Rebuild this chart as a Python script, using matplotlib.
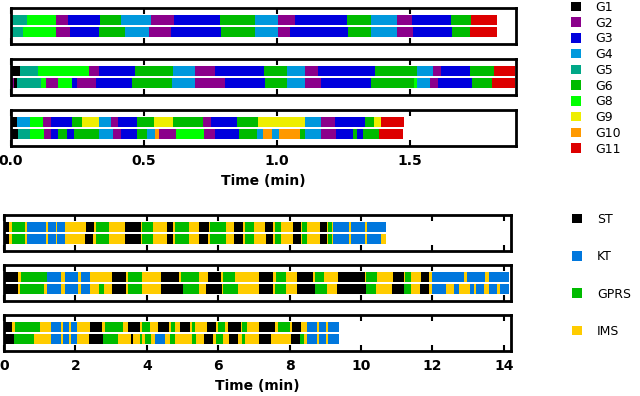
import matplotlib
matplotlib.use("Agg")
import matplotlib.pyplot as plt
from matplotlib.patches import Patch

# ---------------- data: top group (application groups, minutes) ----------------
group_names = ["G1", "G2", "G3", "G4", "G5", "G6", "G8", "G9", "G10", "G11"]
group_colors = ["#000000", "#8b008b", "#0000dd", "#0099dd", "#00a888",
                "#00bb00", "#00ff00", "#eeee00", "#ff9900", "#dd0000"]

t1a_edges = [0.0, 0.062, 0.168, 0.216, 0.336, 0.415, 0.525, 0.615, 0.785, 0.917, 1.005,
             1.068, 1.265, 1.355, 1.452, 1.51, 1.655, 1.73, 1.83]
t1a_labels = ["G5", "G8", "G2", "G3", "G6", "G4", "G2", "G3", "G6", "G4", "G2", "G3",
              "G6", "G4", "G2", "G3", "G6", "G11"]
t1b_edges = [0.0, 0.045, 0.168, 0.223, 0.332, 0.428, 0.521, 0.603, 0.791, 0.917, 1.005,
             1.049, 1.267, 1.355, 1.452, 1.514, 1.659, 1.726, 1.829]
t1b_labels = ["G5", "G8", "G2", "G3", "G6", "G4", "G2", "G3", "G6", "G4", "G2", "G3",
              "G6", "G4", "G2", "G3", "G6", "G11"]

t2a_edges = [0.0, 0.033, 0.103, 0.292, 0.33, 0.465, 0.61, 0.694, 0.766, 0.951, 1.039,
             1.106, 1.154, 1.37, 1.529, 1.587, 1.619, 1.728, 1.819, 1.898]
t2a_labels = ["G1", "G5", "G8", "G2", "G3", "G6", "G4", "G2", "G3", "G6", "G4", "G2",
              "G3", "G6", "G4", "G2", "G3", "G6", "G11"]
t2b_edges = [0.0, 0.01, 0.021, 0.112, 0.131, 0.177, 0.231, 0.248, 0.32, 0.454, 0.604,
             0.692, 0.804, 0.955, 1.039, 1.106, 1.166, 1.355, 1.517, 1.527, 1.577, 1.606,
             1.735, 1.808, 1.898]
t2b_labels = ["G2", "G1", "G5", "G8", "G2", "G8", "G3", "G2", "G3", "G6", "G4", "G2",
              "G3", "G6", "G4", "G2", "G3", "G6", "G8", "G4", "G2", "G3", "G6", "G11"]

t3a_edges = [0.0, 0.024, 0.072, 0.122, 0.15, 0.231, 0.269, 0.332, 0.376, 0.404, 0.473,
             0.537, 0.611, 0.721, 0.751, 0.851, 0.93, 1.106, 1.166, 1.219, 1.33, 1.364,
             1.391, 1.477]
t3a_labels = ["G1", "G4", "G8", "G2", "G3", "G6", "G9", "G4", "G2", "G3", "G6", "G9",
              "G6", "G2", "G3", "G6", "G9", "G4", "G2", "G3", "G6", "G9", "G11"]
t3b_edges = [0.0, 0.026, 0.072, 0.125, 0.15, 0.177, 0.21, 0.238, 0.332, 0.382, 0.414,
             0.474, 0.511, 0.542, 0.558, 0.619, 0.725, 0.766, 0.858, 0.927, 0.948, 0.982,
             1.008, 1.089, 1.106, 1.166, 1.223, 1.288, 1.3, 1.323, 1.385, 1.474]
t3b_labels = ["G1", "G5", "G8", "G2", "G3", "G6", "G3", "G6", "G4", "G2", "G3", "G6",
              "G4", "G10", "G2", "G8", "G2", "G3", "G6", "G4", "G10", "G4", "G10", "G6",
              "G4", "G2", "G3", "G6", "G3", "G6", "G11"]

top_xticks = [0.0, 0.5, 1.0, 1.5]

# ---------------- data: bottom group (network states, minutes) ----------------
state_names = ["ST", "KT", "GPRS", "IMS"]
state_colors = ["#000000", "#0077dd", "#00bb00", "#ffcc00"]

b1a_edges = [0, 0.14, 0.216, 0.59, 0.65, 1.17, 1.23, 1.45, 1.48, 1.71, 2.29, 2.52, 2.59,
             2.94, 3.39, 3.83, 3.87, 4.17, 4.56, 4.73, 4.79, 5.18, 5.46, 5.74, 5.77, 6.21,
             6.44, 6.70, 6.75, 7.0, 7.31, 7.54, 7.58, 7.75, 8.1, 8.31, 8.36, 8.50, 8.85,
             9.06, 9.08, 9.18, 9.22, 9.66, 9.71, 10.11, 10.18, 10.69]
b1a_labels = ["ST", "IMS", "GPRS", "IMS", "KT", "IMS", "KT", "IMS", "KT", "IMS",
              "ST", "IMS", "GPRS", "IMS", "ST", "IMS", "GPRS", "IMS", "ST", "IMS",
              "GPRS", "IMS", "ST", "IMS", "GPRS", "IMS", "ST", "IMS", "GPRS", "IMS",
              "ST", "IMS", "GPRS", "IMS", "ST", "IMS", "GPRS", "IMS", "ST", "IMS",
              "GPRS", "IMS", "KT", "IMS", "KT", "IMS", "KT"]
b1b_edges = [0, 0.14, 0.216, 0.59, 0.65, 1.17, 1.23, 1.45, 1.48, 1.71, 2.27, 2.50, 2.59,
             2.94, 3.39, 3.83, 3.87, 4.17, 4.56, 4.73, 4.79, 5.18, 5.46, 5.72, 5.77, 6.21,
             6.44, 6.70, 6.75, 7.0, 7.33, 7.54, 7.58, 7.75, 8.1, 8.31, 8.36, 8.50, 8.85,
             9.06, 9.08, 9.18, 9.22, 9.66, 9.71, 10.11, 10.18, 10.55, 10.69]
b1b_labels = b1a_labels + ["IMS"]

b2a_edges = [0, 0.40, 0.47, 1.20, 1.61, 1.70, 2.07, 2.15, 2.41, 3.03, 3.41, 3.48, 3.87,
             4.39, 4.90, 4.95, 5.45, 5.71, 6.07, 6.13, 6.48, 7.14, 7.54, 7.61, 7.89, 8.2,
             8.66, 8.70, 8.96, 9.36, 10.11, 10.15, 10.46, 10.9, 11.19, 11.22, 11.39, 11.67,
             11.90, 12.0, 12.89, 12.98, 13.47, 13.57, 14.15]
b2a_labels = ["ST", "IMS", "GPRS", "KT", "IMS", "KT", "IMS", "KT", "IMS", "ST",
              "IMS", "GPRS", "IMS", "ST", "IMS", "GPRS", "IMS", "ST", "IMS", "GPRS",
              "IMS", "ST", "IMS", "GPRS", "IMS", "ST", "IMS", "GPRS", "IMS", "ST",
              "IMS", "GPRS", "IMS", "ST", "IMS", "GPRS", "IMS", "ST", "IMS", "KT",
              "IMS", "KT", "IMS", "KT"]
b2b_edges = [0, 0.39, 0.45, 1.12, 1.20, 1.61, 1.70, 2.07, 2.15, 2.41, 2.66, 2.81, 3.03,
             3.41, 3.48, 3.86, 4.39, 5.01, 5.45, 5.67, 6.10, 6.13, 6.56, 7.14, 7.54, 7.59,
             7.89, 8.2, 8.71, 9.04, 9.34, 10.13, 10.41, 10.88, 11.19, 11.39, 11.65, 11.90,
             12.0, 12.37, 12.61, 12.73, 13.06, 13.17, 13.21, 13.45, 13.59, 13.80, 13.89, 14.15]
b2b_labels = ["ST", "IMS", "GPRS", "IMS", "KT", "IMS", "KT", "IMS", "KT", "IMS",
              "GPRS", "IMS", "ST", "IMS", "GPRS", "IMS", "ST", "GPRS", "IMS", "ST",
              "IMS", "GPRS", "IMS", "ST", "IMS", "GPRS", "IMS", "ST", "GPRS", "IMS",
              "ST", "GPRS", "IMS", "ST", "GPRS", "IMS", "ST", "IMS", "KT", "IMS",
              "KT", "IMS", "KT", "IMS", "KT", "IMS", "KT", "IMS", "KT"]

b3a_edges = [0, 0.23, 0.30, 1.01, 1.33, 1.61, 1.66, 1.83, 1.89, 2.04, 2.40, 2.74, 2.84,
             3.32, 3.46, 3.82, 3.87, 4.10, 4.31, 4.63, 4.68, 4.80, 4.92, 5.22, 5.26, 5.36,
             5.69, 5.95, 5.98, 6.20, 6.27, 6.63, 6.67, 6.80, 7.14, 7.58, 7.68, 8.01, 8.07,
             8.31, 8.48, 8.77, 8.82, 9.02, 9.07, 9.38]
b3a_labels = ["ST", "IMS", "GPRS", "IMS", "KT", "IMS", "KT", "IMS", "KT", "IMS",
              "ST", "IMS", "GPRS", "IMS", "ST", "IMS", "GPRS", "IMS", "ST", "IMS",
              "GPRS", "IMS", "ST", "IMS", "GPRS", "IMS", "ST", "IMS", "GPRS", "IMS",
              "ST", "IMS", "GPRS", "IMS", "ST", "IMS", "GPRS", "IMS", "ST", "IMS",
              "KT", "IMS", "KT", "IMS", "KT"]
b3b_edges = [0, 0.28, 0.84, 1.33, 1.61, 1.66, 1.83, 1.89, 2.04, 2.38, 2.78, 3.18, 3.55,
             3.60, 3.80, 3.87, 3.94, 4.11, 4.22, 4.51, 4.66, 4.80, 5.27, 5.38, 5.59, 5.85,
             5.95, 6.13, 6.30, 6.56, 6.67, 6.75, 7.14, 7.49, 8.03, 8.29, 8.41, 8.48, 8.77,
             8.82, 9.02, 9.07, 9.38]
b3b_labels = ["ST", "GPRS", "IMS", "KT", "IMS", "KT", "IMS", "KT", "IMS", "ST",
              "GPRS", "IMS", "ST", "IMS", "GPRS", "IMS", "GPRS", "IMS", "KT", "IMS",
              "GPRS", "IMS", "GPRS", "IMS", "ST", "IMS", "GPRS", "IMS", "ST", "IMS",
              "GPRS", "IMS", "ST", "IMS", "ST", "GPRS", "IMS", "KT", "IMS", "KT",
              "IMS", "KT"]

bottom_xticks = [0, 2, 4, 6, 8, 10, 12, 14]

# ---------------- drawing ----------------
W, H = 640, 396
fig = plt.figure(figsize=(6.4, 3.96), dpi=100)

def draw_row(ax, y, edges, labels, cmap):
    lefts = edges[:-1]
    widths = [edges[i + 1] - edges[i] for i in range(len(labels))]
    cols = [cmap[l] for l in labels]
    ax.barh([y] * len(labels), widths, left=lefts, height=0.79, color=cols,
            linewidth=0, align="center")

def style(ax, xlim, xticks, show_labels):
    ax.set_xlim(*xlim)
    ax.set_ylim(-0.915, 1.915)
    ax.set_yticks([])
    ax.set_xticks(xticks)
    for s in ax.spines.values():
        s.set_linewidth(2.0)
    ax.tick_params(axis="x", direction="in", top=True, bottom=True, length=4.5,
                   width=1.5, labelsize=10, pad=6)
    if show_labels:
        ax.set_xlabel("Time (min)", fontsize=10, fontweight="semibold", labelpad=4)
    else:
        ax.tick_params(axis="x", labelbottom=False)

def axes_px(x0, y0, x1, y1):
    return fig.add_axes([x0 / W, 1 - y1 / H, (x1 - x0) / W, (y1 - y0) / H])

gmap = dict(zip(group_names, group_colors))
smap = dict(zip(state_names, state_colors))

top_rows = [(t1a_edges, t1a_labels, t1b_edges, t1b_labels),
            (t2a_edges, t2a_labels, t2b_edges, t2b_labels),
            (t3a_edges, t3a_labels, t3b_edges, t3b_labels)]
top_y = [(8, 44), (59, 95), (110, 146)]
for i, ((ea, la, eb, lb), (y0, y1)) in enumerate(zip(top_rows, top_y)):
    ax = axes_px(11, y0, 516, y1)
    draw_row(ax, 1, ea, la, gmap)
    draw_row(ax, 0, eb, lb, gmap)
    style(ax, (0, 1.9), top_xticks, i == 2)
    if i == 2:
        ax.set_xticklabels(["%.1f" % v for v in top_xticks], fontweight="bold")

bot_rows = [(b1a_edges, b1a_labels, b1b_edges, b1b_labels),
            (b2a_edges, b2a_labels, b2b_edges, b2b_labels),
            (b3a_edges, b3a_labels, b3b_edges, b3b_labels)]
bot_y = [(215, 251), (265, 301), (315, 351)]
for i, ((ea, la, eb, lb), (y0, y1)) in enumerate(zip(bot_rows, bot_y)):
    ax = axes_px(4, y0, 511, y1)
    draw_row(ax, 1, ea, la, smap)
    draw_row(ax, 0, eb, lb, smap)
    style(ax, (0, 14.2), bottom_xticks, i == 2)
    if i == 2:
        ax.set_xticklabels([str(v) for v in bottom_xticks], fontweight="bold")

# legends
gh = [Patch(facecolor=c, edgecolor="none") for c in group_colors]
fig.legend(gh, group_names, loc="upper left", bbox_to_anchor=(562 / W, 1 + 8 / H),
           frameon=False, fontsize=9, handlelength=0.8, handleheight=0.8,
           labelspacing=0.22, handletextpad=1.2, borderpad=0.2)
sh = [Patch(facecolor=c, edgecolor="none") for c in state_colors]
fig.legend(sh, state_names, loc="upper left", bbox_to_anchor=(563 / W, 1 - 204 / H),
           frameon=False, fontsize=9, handlelength=0.8, handleheight=0.8,
           labelspacing=1.95, handletextpad=1.2, borderpad=0.2)

fig.savefig("out.png", dpi=100)
